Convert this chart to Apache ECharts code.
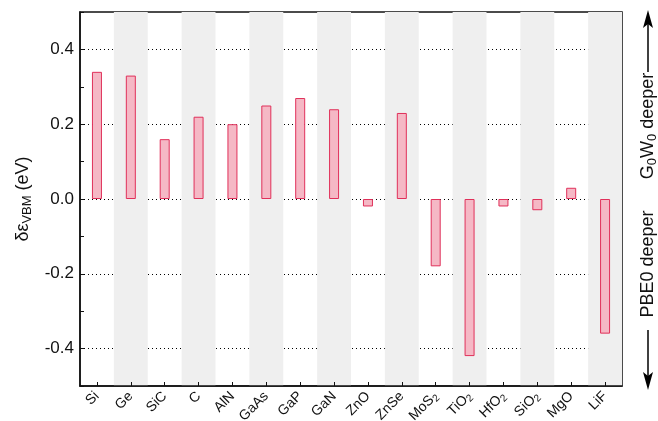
<!DOCTYPE html>
<html>
<head>
<meta charset="utf-8">
<script src="https://cdn.jsdelivr.net/npm/echarts@6/dist/echarts.min.js"></script>
<style>
  html, body { margin: 0; padding: 0; background: #fff; }
  #chart { width: 658px; height: 421px; }
</style>
</head>
<body>
<div id="chart"></div>
<script>
// Materials along the x axis
const materials = ['Si', 'Ge', 'SiC', 'C', 'AlN', 'GaAs', 'GaP', 'GaN', 'ZnO', 'ZnSe',
                   'MoS2', 'TiO2', 'HfO2', 'SiO2', 'MgO', 'LiF'];
// Valence-band-maximum shift (eV) for each material
const deltaVBM = [0.34, 0.33, 0.16, 0.22, 0.20, 0.25, 0.27, 0.24, -0.02, 0.23,
                  -0.18, -0.42, -0.02, -0.03, 0.03, -0.36];
// Labelled y values (every other 0.1 step), each with a dotted guide line
const yLabelled = [-0.4, -0.2, 0.0, 0.2, 0.4];

const FONT = 'Liberation Sans, Arial, Helvetica, sans-serif';
const INK = '#111';

// Chemical formulas: digits become subscripts
function formula(name) {
  return name.replace(/(\d+)/g, '{sub|$1}').replace(/^([^{]+)/, '{n|$1}');
}

function isLabelled(v) {
  return yLabelled.some(t => Math.abs(t - v) < 1e-6);
}

const chart = echarts.init(document.getElementById('chart'), null, { renderer: 'canvas' });

const option = {
  animation: false,
  backgroundColor: '#fff',
  grid: {
    left: 80, right: 36, top: 12, bottom: 35,
    outerBoundsMode: 'none',
    containLabel: false,
    show: true, borderColor: INK, borderWidth: 1.5, backgroundColor: 'transparent'
  },
  xAxis: {
    type: 'category',
    data: materials,
    boundaryGap: true,
    axisLine: { show: true, onZero: false, lineStyle: { color: INK, width: 1.5 } },
    axisTick: { show: true, inside: true, alignWithLabel: true, length: 4, lineStyle: { color: INK } },
    splitLine: { show: false },
    splitArea: { show: true, interval: 0, areaStyle: { color: ['rgba(255,255,255,0)', '#efefef'] } },
    axisLabel: {
      interval: 0,
      rotate: 45,
      margin: 8,
      color: INK,
      fontFamily: FONT,
      fontSize: 14,
      formatter: formula,
      rich: {
        n: { fontFamily: FONT, fontSize: 14, color: INK },
        sub: { fontFamily: FONT, fontSize: 10, color: INK, padding: [7, 0, 0, 0] }
      }
    }
  },
  yAxis: {
    type: 'value',
    min: -0.5,
    max: 0.5,
    interval: 0.1,
    name: '{a|δε}{s|VBM}{a| (eV)}',
    nameLocation: 'middle',
    nameGap: 43,
    nameRotate: 90,
    nameTextStyle: {
      rich: {
        a: { fontFamily: FONT, fontSize: 18, color: INK },
        s: { fontFamily: FONT, fontSize: 13, color: INK, padding: [9, 0, 0, 0] }
      }
    },
    axisLine: { show: true, lineStyle: { color: INK, width: 1.5 } },
    axisTick: { show: true, inside: true, length: 4, lineStyle: { color: INK } },
    // guide lines only on the labelled steps: colours alternate from the -0.5 line
    splitLine: { show: true, lineStyle: { color: ['#ffffff00', '#000000'], type: [1, 3], width: 1 } },
    axisLabel: {
      color: INK,
      fontFamily: FONT,
      fontSize: 17,
      margin: 6,
      formatter: function (v) {
        return isLabelled(v) ? v.toFixed(1) : '';
      }
    }
  },
  series: [{
    type: 'bar',
    data: deltaVBM,
    barWidth: 10,
    z: 2,
    itemStyle: { color: '#f5b8c5', borderColor: '#e0305a', borderWidth: 1 }
  }],
  graphic: [
    // upward arrow: G0W0 deeper
    { type: 'line', shape: { x1: 648, y1: 72, x2: 648, y2: 20 }, style: { stroke: '#000', lineWidth: 1.5 } },
    { type: 'polygon', shape: { points: [[648, 10], [653, 28], [648, 24], [643, 28]] }, style: { fill: '#000' } },
    {
      type: 'text', x: 648, y: 126, rotation: Math.PI / 2,
      style: {
        text: '{t|G}{s|0}{t|W}{s|0}{t| deeper}',
        align: 'center', verticalAlign: 'middle',
        rich: {
          t: { fontFamily: FONT, fontSize: 18, fill: INK },
          s: { fontFamily: FONT, fontSize: 13, fill: INK, padding: [8, 0, 0, 0] }
        }
      }
    },
    {
      type: 'text', x: 648, y: 264, rotation: Math.PI / 2,
      style: { text: 'PBE0 deeper', align: 'center', verticalAlign: 'middle', fontFamily: FONT, fontSize: 18, fill: INK }
    },
    // downward arrow: PBE0 deeper
    { type: 'line', shape: { x1: 648, y1: 330, x2: 648, y2: 380 }, style: { stroke: '#000', lineWidth: 1.5 } },
    { type: 'polygon', shape: { points: [[648, 390], [653, 372], [648, 376], [643, 372]] }, style: { fill: '#000' } }
  ]
};

chart.setOption(option);
</script>
</body>
</html>
